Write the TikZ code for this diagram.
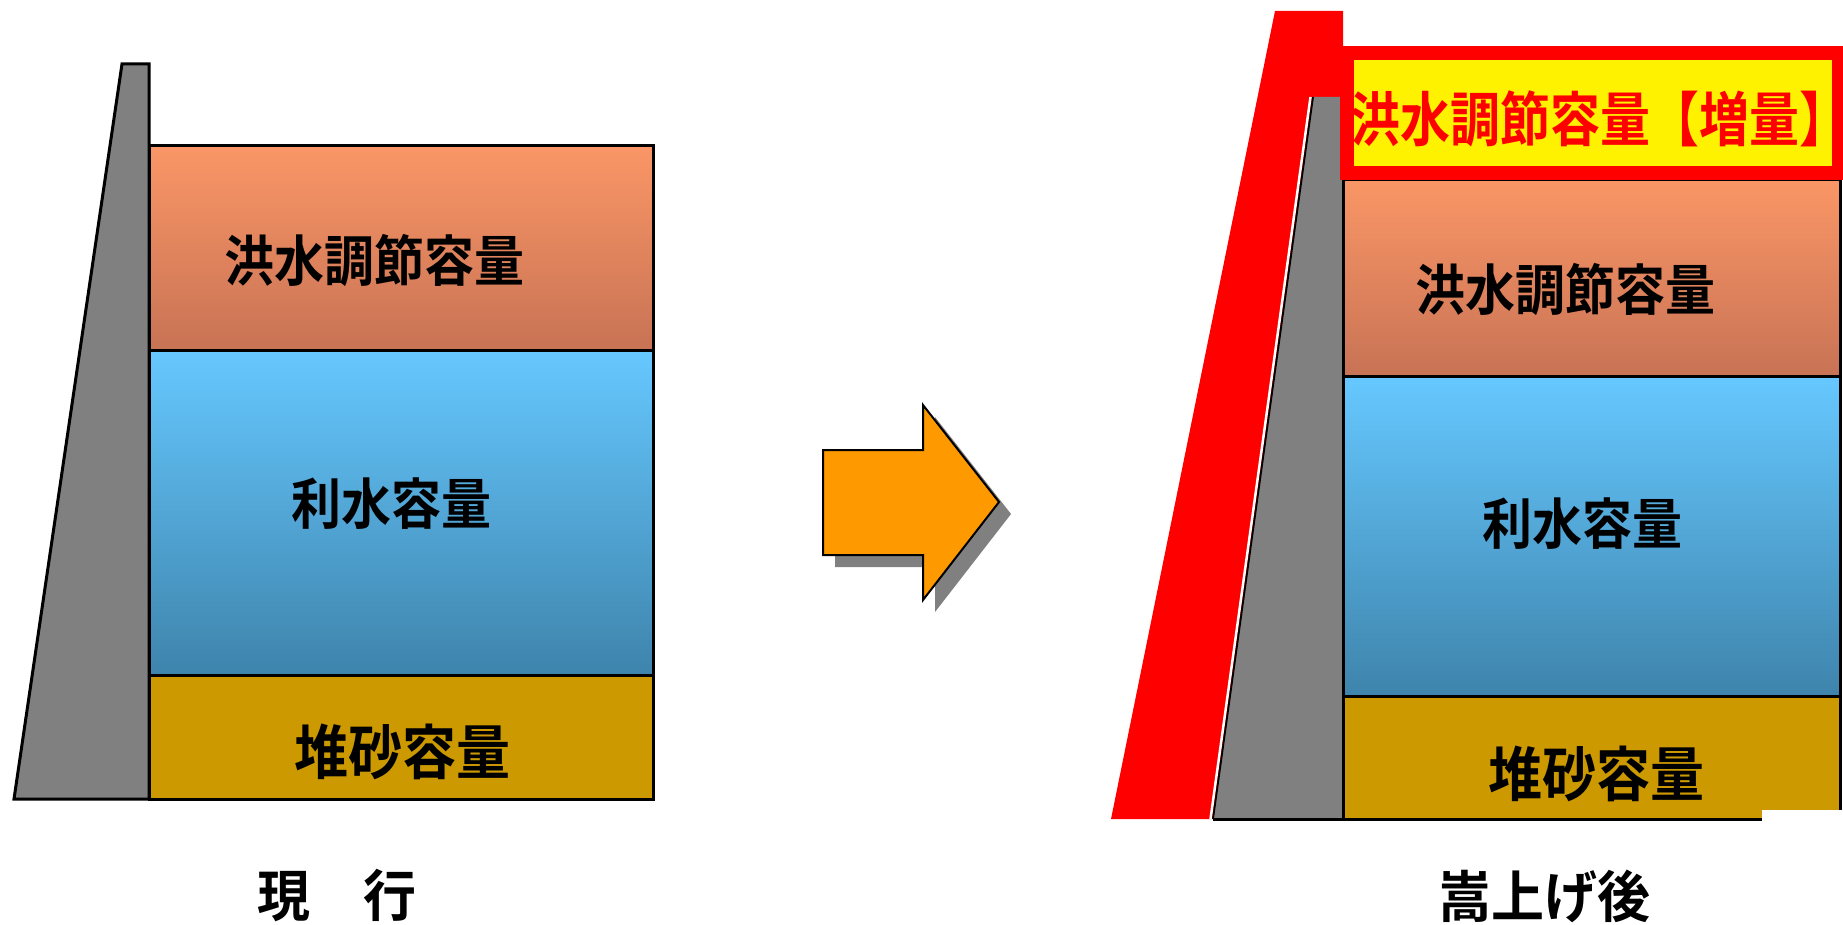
\documentclass[tikz,border=0pt]{standalone}
\usepackage{fontspec}
\setmainfont{Noto Sans CJK JP}[BoldFont=* Bold]
\begin{document}
\begin{tikzpicture}[x=1pt,y=-1pt,
  lbl/.style={font=\bfseries\fontsize{50}{50}\selectfont, inner sep=0pt, text=black},
  sandlbl/.style={font=\bfseries\fontsize{54}{54}\selectfont, inner sep=0pt, text=black},
  captext/.style={font=\bfseries\fontsize{53}{53}\selectfont, inner sep=0pt, text=black},
  boxline/.style={draw=black, line width=3pt},
  damgray/.style={fill=damc},
  flood/.style={top color=floodtop, bottom color=floodbot},
  water/.style={top color=watertop, bottom color=waterbot},
  sand/.style={fill=sandc}]
\definecolor{damc}{RGB}{128,128,128}
\definecolor{floodtop}{RGB}{250,150,102}
\definecolor{floodbot}{RGB}{200,115,85}
\definecolor{watertop}{RGB}{102,200,255}
\definecolor{waterbot}{RGB}{62,132,172}
\definecolor{sandc}{RGB}{204,153,0}
\definecolor{arrowc}{RGB}{255,153,0}
\definecolor{shadowc}{RGB}{128,128,128}
\useasboundingbox (0,0) rectangle (1843,925);
\fill[white] (0,0) rectangle (1843,925);

% ---------- left (current) ----------
\draw[damgray, boxline, line join=miter] (14,799) -- (122,64) -- (149,64) -- (149,799) -- cycle;
\draw[flood, boxline] (149,146) rectangle (653,350);
\draw[water, boxline] (149,350) rectangle (653,675);
\draw[sand, boxline] (149,675) rectangle (653,799);
\node[lbl] (lflood) at (374,260) {\scalebox{1}[1.1]{洪水調節容量}};
\node[lbl] (lwater) at (391,504) {\scalebox{1}[1.1]{利水容量}};
\node[sandlbl] (lsand) at (402,752) {\scalebox{1}[1.1]{堆砂容量}};
\node[captext] (lcap) at (337,896) {\scalebox{1}[1.05]{現　行}};

% ---------- arrow ----------
\fill[shadowc] ([shift={(12,12)}]823,450) -- ++(100,0) -- ++(0,-45) -- ++(76,97) -- ++(-76,98) -- ++(0,-45) -- ++(-100,0) -- cycle;
\draw[fill=arrowc, draw=black, line width=2pt, line join=miter]
  (823,450) -- (923,450) -- (923,405) -- (999,502) -- (923,600) -- (923,555) -- (823,555) -- cycle;

% ---------- right (after raising) ----------
\fill[red] (1111,819) -- (1275,11) -- (1343,11) -- (1343,819) -- cycle;
\fill[damc] (1213,819) -- (1313,97) -- (1343,97) -- (1343,819) -- cycle;
\draw[white, line width=2.5pt] (1210.5,819) -- (1310.5,97);
\draw[black, line width=1.8pt] (1213,819) -- (1313,97);
\draw[flood, boxline] (1343,180) rectangle (1840,376);
\draw[water, boxline] (1343,376) rectangle (1840,696);
\draw[sand, boxline] (1343,696) rectangle (1840,819);
\draw[black, line width=3pt] (1213,819) -- (1343,819);
\draw[red, fill=yellow, line width=14pt] (1347,53) rectangle (1839,173);
\node[lbl, text=red, font=\bfseries\fontsize{48.5}{48.5}\selectfont] (rnew) at (1600,119) {\scalebox{1.03}[1.22]{洪水調節容量【増量】}};
\node[lbl] (rflood) at (1565,289) {\scalebox{1}[1.1]{洪水調節容量}};
\node[lbl] (rwater) at (1582,524) {\scalebox{1}[1.1]{利水容量}};
\node[sandlbl] (rsand) at (1596,774) {\scalebox{1}[1.1]{堆砂容量}};
\fill[white] (1762,810) rectangle (1843,925);
\node[captext] (rcap) at (1544,896) {\scalebox{1}[1.05]{嵩上げ後}};
\end{tikzpicture}
\end{document}
